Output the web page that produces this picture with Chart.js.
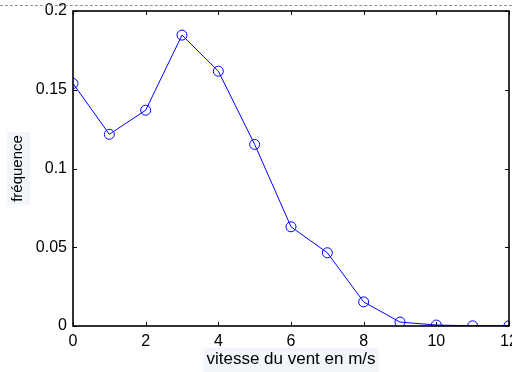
<!DOCTYPE html>
<html>
<head>
<meta charset="utf-8">
<script src="https://cdn.jsdelivr.net/npm/chart.js@4/dist/chart.umd.min.js"></script>
<style>
  html, body { margin: 0; padding: 0; background: #fff; }
  #wrap { position: relative; width: 512px; height: 372px; overflow: hidden; }
  #topline { position: absolute; left: 0; top: 5px; width: 512px; border-top: 1px dashed #8a90a0; }
</style>
</head>
<body>
<div id="wrap">
  <canvas id="wind" width="530" height="372"></canvas>
  <div id="topline"></div>
</div>
<script>
const speeds = [0, 1, 2, 3, 4, 5, 6, 7, 8, 9, 10, 11, 12]
const frequencies = [0.154, 0.1217, 0.137, 0.1847, 0.1618, 0.1153, 0.063, 0.0465, 0.0153, 0.0025, 0.0006, 0.0001, 0.0002]
const xTicks = [0, 2, 4, 6, 8, 10, 12]
const yTicks = [0, 0.05, 0.1, 0.15, 0.2]

const tickFont = { family: 'Liberation Sans, Arial, sans-serif', size: 16 }
const xTitleFont = { family: 'Liberation Sans, Arial, sans-serif', size: 17 }
const yTitleFont = { family: 'Liberation Sans, Arial, sans-serif', size: 15 }

// pale box behind the axis titles, like in the original figure
const titleBg = {
  id: 'titleBg',
  beforeDraw(chart) {
    const ctx = chart.ctx
    ctx.save()
    ctx.fillStyle = '#f2f5fa'
    const a = chart.chartArea
    const cx = (a.left + a.right) / 2
    ctx.font = '17px Liberation Sans, Arial, sans-serif'
    const wx = ctx.measureText('vitesse du vent en m/s').width
    ctx.fillRect(cx - wx / 2 - 3, 348, wx + 6, 24)
    ctx.font = '15px Liberation Sans, Arial, sans-serif'
    const wy = ctx.measureText('fréquence').width
    const cy = (a.top + a.bottom) / 2
    ctx.fillRect(7, cy - wy / 2 - 3, 23, wy + 6)
    ctx.restore()
  }
}

// box around the plot and matlab-style inward ticks
const frame = {
  id: 'frame',
  afterDraw(chart) {
    const { ctx, chartArea: a, scales } = chart
    ctx.save()
    ctx.strokeStyle = '#000'
    ctx.lineWidth = 1
    scales.x.ticks.forEach(t => {
      const px = Math.round(scales.x.getPixelForValue(t.value)) + 0.5
      ctx.beginPath()
      ctx.moveTo(px, a.bottom); ctx.lineTo(px, a.bottom - 4)
      ctx.moveTo(px, a.top); ctx.lineTo(px, a.top + 4)
      ctx.stroke()
    })
    scales.y.ticks.forEach(t => {
      const py = Math.round(scales.y.getPixelForValue(t.value)) + 0.5
      ctx.beginPath()
      ctx.moveTo(a.left, py); ctx.lineTo(a.left + 4, py)
      ctx.moveTo(a.right, py); ctx.lineTo(a.right - 4, py)
      ctx.stroke()
    })
    ctx.lineWidth = 1.6
    ctx.strokeRect(a.left, a.top, a.right - a.left, a.bottom - a.top)
    ctx.restore()
  }
}

new Chart(document.getElementById('wind'), {
  type: 'line',
  data: {
    datasets: [{
      data: speeds.map((s, i) => ({ x: s, y: frequencies[i] })),
      borderColor: '#0000ff',
      borderWidth: 1,
      pointStyle: 'circle',
      pointRadius: 5,
      pointBorderWidth: 1,
      pointBorderColor: '#0000ff',
      pointBackgroundColor: 'rgba(0,0,0,0)',
      tension: 0
    }]
  },
  options: {
    responsive: false,
    animation: false,
    layout: { padding: { top: 11, right: 21, left: 0, bottom: 0 } },
    plugins: { legend: { display: false }, tooltip: { enabled: false } },
    scales: {
      x: {
        type: 'linear',
        min: 0,
        max: 12,
        afterBuildTicks: s => { s.ticks = xTicks.map(v => ({ value: v })) },
        grid: { display: false, drawTicks: false },
        border: { display: false },
        ticks: { color: '#000', font: tickFont, padding: 6, maxRotation: 0 },
        title: { display: true, text: 'vitesse du vent en m/s', color: '#000', font: xTitleFont, padding: { top: 0, bottom: 2 } },
        afterFit: s => { s.height = 46; s.paddingLeft = 0; s.paddingRight = 0 }
      },
      y: {
        min: 0,
        max: 0.2,
        afterBuildTicks: s => { s.ticks = yTicks.map(v => ({ value: v })) },
        grid: { display: false, drawTicks: false },
        border: { display: false },
        ticks: { color: '#000', font: tickFont, padding: 6, callback: v => String(v) },
        title: { display: true, text: 'fréquence', color: '#000', font: yTitleFont, padding: { top: 9, bottom: 0 } },
        afterFit: s => { s.width = 73; s.paddingTop = 0; s.paddingBottom = 0 }
      }
    }
  },
  plugins: [titleBg, frame]
})
</script>
</body>
</html>
